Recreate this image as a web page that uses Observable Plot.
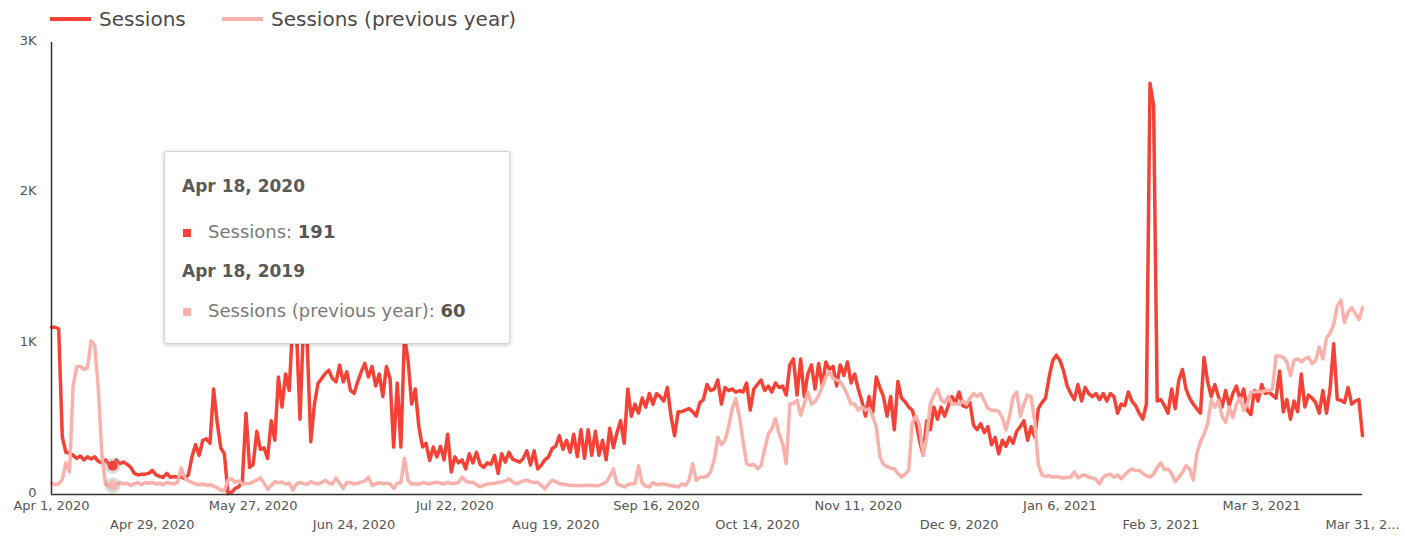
<!DOCTYPE html>
<html>
<head>
<meta charset="utf-8">
<script src="https://cdn.jsdelivr.net/npm/d3@7"></script>
<script src="https://cdn.jsdelivr.net/npm/@observablehq/plot@0.6"></script>
<style>
  html, body { margin: 0; padding: 0; background: #fff; }
  body { width: 1405px; height: 537px; position: relative; overflow: hidden; font-family: "DejaVu Sans", sans-serif; }
  #legend { position: relative; height: 34px; }
  .sw { position: absolute; top: 17px; height: 4px; width: 41px; }
  .lt { position: absolute; top: 7px; font-size: 20px; color: #4a4a4a; line-height: 24px; white-space: nowrap; }
  #tip { position: absolute; left: 164px; top: 151px; width: 344px; height: 191px; background: #fff;
         border: 1px solid #d4d4d4; border-radius: 2px; box-shadow: 0 1px 4px rgba(0,0,0,0.22); z-index: 5; }
  #tip div { position: absolute; white-space: nowrap; line-height: 22px; }
  .hd { left: 17px; font-size: 17px; font-weight: bold; color: #5a5a5a; }
  .rw { left: 43px; font-size: 18px; color: #7a7a7a; }
  .rw b { color: #555; }
  .sq { width: 8px; height: 8px; left: 18px; }
</style>
</head>
<body>
<div id="legend"></div>
<div id="chart"></div>
<div id="tip"></div>
<script>
// ---- data ----
const startDate = "2020-04-01";
const seriesNames = ["Sessions", "Sessions (previous year)"];
const seriesColors = ["#f44336", "#f9b1ab"];

const sessions = [
  1110,1110,1100,380,280,275,260,240,255,230,
  250,235,250,220,210,230,200,191,230,205,
  215,200,180,140,130,135,135,140,160,130,
  120,115,140,115,120,115,115,105,130,250,
  330,260,360,370,340,700,480,310,270,5,
  15,40,50,90,540,180,200,420,300,310,
  240,490,360,780,580,800,690,1150,1100,500,
  1150,1000,350,600,737,770,803,825,770,748,
  858,748,814,692,670,748,814,870,780,850,
  720,800,650,850,770,315,740,315,1050,890,
  600,700,450,315,340,226,315,250,320,230,
  400,150,250,210,230,170,270,210,280,200,
  180,210,200,260,140,270,215,280,235,225,
  215,240,290,195,290,170,195,230,250,305,
  320,390,300,360,280,400,250,430,240,430,
  260,420,260,360,230,440,310,410,490,340,
  700,520,600,540,640,580,670,600,670,650,
  620,710,520,390,550,550,560,570,550,520,
  610,630,730,690,700,760,600,710,690,700,
  680,690,680,740,560,700,730,760,690,720,
  680,740,710,720,660,860,900,660,900,650,
  800,860,700,870,720,880,830,850,720,860,
  790,880,740,800,700,620,520,650,540,780,
  710,650,520,650,430,750,640,615,580,560,
  480,360,260,490,430,580,500,580,520,590,
  650,610,680,590,580,610,460,430,470,410,
  450,330,380,270,360,320,380,340,420,450,
  490,360,450,380,570,610,640,780,890,925,
  890,820,720,670,630,730,620,710,670,650,
  670,630,670,620,670,650,540,600,590,680,
  620,590,540,500,600,2730,2580,620,630,590,
  540,700,570,760,830,700,640,600,570,540,
  910,750,650,730,650,580,690,590,670,720,
  630,700,560,530,690,620,730,670,680,660,
  640,820,550,630,500,620,550,800,580,660,
  640,610,540,690,540,700,1000,630,625,610,
  710,600,620,630,390
];

const sessionsPrevYear = [
  75,65,70,100,210,150,720,850,850,830,
  840,1020,990,700,260,70,55,60,65,80,
  70,75,60,70,80,65,80,75,80,70,
  75,65,80,75,70,80,175,110,90,80,
  70,65,70,60,65,55,45,30,25,95,
  105,80,90,70,75,72,85,95,110,75,
  35,60,85,78,82,70,75,30,70,80,
  72,68,85,75,70,80,95,75,70,110,
  75,40,80,78,70,75,82,90,115,60,
  70,78,72,75,70,40,75,80,240,95,
  70,72,68,80,75,70,78,82,75,70,
  80,72,75,80,115,90,80,82,65,50,
  60,70,72,75,80,85,90,105,85,70,
  80,90,95,85,80,82,60,38,70,95,
  85,72,70,65,60,62,60,58,60,62,
  60,58,60,70,82,120,170,72,60,50,
  65,72,72,190,75,55,50,80,65,70,
  70,65,60,55,50,70,60,93,204,93,
  115,115,120,150,230,380,330,360,450,570,
  637,515,359,204,193,200,171,190,300,400,
  437,504,404,337,204,600,604,626,526,600,
  680,600,615,659,714,781,814,770,759,750,
  710,660,600,600,560,581,559,570,520,450,
  250,200,185,175,170,140,115,135,160,480,
  520,460,260,380,600,660,700,630,610,650,
  600,600,600,620,600,640,670,650,670,620,
  570,560,560,550,510,430,520,650,680,520,
  600,660,650,480,200,130,120,125,115,120,
  115,110,115,115,150,110,125,130,115,110,
  100,70,115,130,135,115,130,105,130,155,
  170,160,160,140,125,115,135,180,210,165,
  170,140,85,115,145,190,170,95,270,350,
  400,470,625,580,625,520,480,580,510,600,
  640,560,600,680,680,690,680,690,690,700,
  920,920,910,880,790,890,900,880,900,910,
  870,890,980,900,1040,1070,1130,1250,1290,1140,
  1210,1240,1200,1160,1240
];

const xTickDates = ["2020-04-01","2020-04-29","2020-05-27","2020-06-24","2020-07-22","2020-08-19","2020-09-16",
                    "2020-10-14","2020-11-11","2020-12-09","2021-01-06","2021-02-03","2021-03-03","2021-03-31"];
const xTickLabels = ["Apr 1, 2020","Apr 29, 2020","May 27, 2020","Jun 24, 2020","Jul 22, 2020","Aug 19, 2020","Sep 16, 2020",
                     "Oct 14, 2020","Nov 11, 2020","Dec 9, 2020","Jan 6, 2021","Feb 3, 2021","Mar 3, 2021","Mar 31, 2..."];
const yTicks = [0, 1000, 2000, 3000];
const yTickLabels = ["0", "1K", "2K", "3K"];

const hoverIndex = 17;
const tipLines = ["Apr 18, 2020", "Apr 18, 2019"];

// ---- build ----
const t0 = new Date(startDate + "T00:00:00Z");
const dayOf = i => new Date(t0.getTime() + i * 864e5);
const cur = sessions.map((v, i) => ({date: dayOf(i), value: v}));
const prev = sessionsPrevYear.map((v, i) => ({date: dayOf(i), value: v}));
const xt = xTickDates.map((s, i) => ({date: new Date(s + "T00:00:00Z"), label: xTickLabels[i], row: i % 2}));
const yt = yTicks.map((v, i) => ({v, label: yTickLabels[i]}));

const chart = Plot.plot({
  width: 1405, height: 503,
  marginTop: 8, marginBottom: 43, marginLeft: 51, marginRight: 43,
  x: {type: "utc", domain: [cur[0].date, cur[cur.length - 1].date], axis: null},
  y: {domain: [0, 3000], axis: null},
  style: {fontFamily: "DejaVu Sans, sans-serif", fontSize: "13px", color: "#555", background: "white", overflow: "visible"},
  marks: [
    Plot.text(yt, {y: "v", text: "label", frameAnchor: "left", dx: -15, dy: -2, textAnchor: "end", fill: "#555", fontSize: 13}),
    Plot.text(xt.filter(d => d.row === 0), {x: "date", text: "label", frameAnchor: "bottom", dy: 15, fill: "#555", fontSize: 13}),
    Plot.text(xt.filter(d => d.row === 1), {x: "date", text: "label", frameAnchor: "bottom", dy: 34, fill: "#555", fontSize: 13}),
    Plot.line(cur, {x: "date", y: "value", stroke: seriesColors[0], strokeWidth: 3.5, strokeLinejoin: "round"}),
    Plot.line(prev, {x: "date", y: "value", stroke: seriesColors[1], strokeWidth: 3.5, strokeLinejoin: "round"}),
    Plot.ruleX([cur[0].date], {stroke: "#333", strokeWidth: 1.5}),
    Plot.ruleY([0], {stroke: "#333", strokeWidth: 1.5}),
    Plot.dot([cur[hoverIndex], prev[hoverIndex]], {x: "date", y: "value", r: 8, fill: "#999", fillOpacity: 0.35}),
    Plot.dot([cur[hoverIndex]], {x: "date", y: "value", r: 5, fill: seriesColors[0]}),
    Plot.dot([prev[hoverIndex]], {x: "date", y: "value", r: 5, fill: seriesColors[1], fillOpacity: 0.9})
  ]
});
document.getElementById("chart").appendChild(chart);

// legend
const leg = document.getElementById("legend");
leg.innerHTML =
  `<span class="sw" style="left:50px;background:${seriesColors[0]}"></span>` +
  `<span class="lt" style="left:99px">${seriesNames[0]}</span>` +
  `<span class="sw" style="left:222px;background:${seriesColors[1]}"></span>` +
  `<span class="lt" style="left:271px">${seriesNames[1]}</span>`;

// tooltip
const tip = document.getElementById("tip");
tip.innerHTML =
  `<div class="hd" style="top:23px">${tipLines[0]}</div>` +
  `<div class="sq" style="top:77px;background:${seriesColors[0]}"></div>` +
  `<div class="rw" style="top:69px">${seriesNames[0]}: <b>${sessions[hoverIndex]}</b></div>` +
  `<div class="hd" style="top:108px">${tipLines[1]}</div>` +
  `<div class="sq" style="top:156px;background:${seriesColors[1]}"></div>` +
  `<div class="rw" style="top:148px">${seriesNames[1]}: <b>${sessionsPrevYear[hoverIndex]}</b></div>`;
</script>
</body>
</html>
